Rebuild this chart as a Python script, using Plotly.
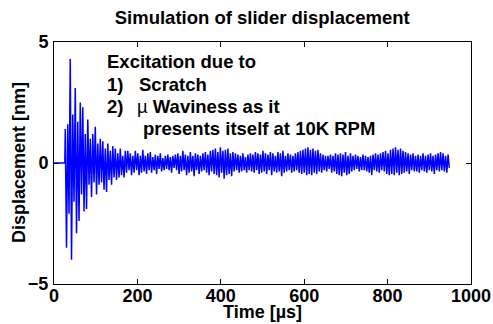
import numpy as np
import plotly.graph_objects as go

# ---- data ----
t_lead = [0, 26]            # flat lead-in, µs
d_lead = [0.0, 0.0]
t_start = 27.0              # first oscillation sample, µs
dt = 3.0                    # sample spacing, µs
displacement = [
    1.4, -3.5, 1.6, -2.1, 4.3, -4.0, 2.0, -1.6, 3.1, -2.9,
    1.7, -2.4, 2.5, -1.3, 2.3, -2.0, 1.2, -1.9, 1.8, -0.9,
    1.0, -1.4, 1.2, -0.8, 1.5, -1.3, 0.8, -0.9, 1.0, -0.8,
    0.9, -1.1, 0.6, -1.2, 0.8, -0.7, 0.5, -0.9, 0.7, -0.6,
    0.6, -0.7, 0.4, -0.6, 0.6, -0.5, 0.3, -0.6, 0.5, -0.4,
    0.5, -0.3, 0.4, -0.5, 0.3, -0.4, 0.5, -0.3, 0.4, -0.5,
    0.3, -0.4, 0.55, -0.35, 0.3, -0.45, 0.4, -0.3, 0.45, -0.4,
    0.25, -0.3, 0.35, -0.45, 0.3, -0.25, 0.4, -0.35, 0.2, -0.3,
    0.3, -0.25, 0.35, -0.3, 0.25, -0.4, 0.3, -0.2, 0.35, -0.3,
    0.4, -0.45, 0.3, -0.35, 0.5, -0.3, 0.35, -0.5, 0.3, -0.4,
    0.45, -0.35, 0.3, -0.55, 0.4, -0.3, 0.35, -0.45, 0.3, -0.35,
    0.4, -0.3, 0.45, -0.4, 0.35, -0.5, 0.5, -0.35, 0.55, -0.45,
    0.6, -0.5, 0.45, -0.6, 0.65, -0.4, 0.5, -0.65, 0.55, -0.5,
    0.6, -0.45, 0.4, -0.55, 0.45, -0.35, 0.4, -0.3, 0.35, -0.4,
    0.3, -0.35, 0.4, -0.3, 0.25, -0.4, 0.35, -0.3, 0.4, -0.35,
    0.35, -0.4, 0.45, -0.3, 0.4, -0.45, 0.35, -0.4, 0.5, -0.35,
    0.4, -0.45, 0.35, -0.3, 0.45, -0.5, 0.4, -0.35, 0.3, -0.4,
    0.45, -0.35, 0.4, -0.55, 0.5, -0.4, 0.3, -0.35, 0.4, -0.3,
    0.35, -0.4, 0.3, -0.35, 0.4, -0.3, 0.45, -0.4, 0.5, -0.45,
    0.55, -0.4, 0.6, -0.5, 0.65, -0.45, 0.55, -0.5, 0.6, -0.4,
    0.5, -0.45, 0.55, -0.35, 0.4, -0.4, 0.35, -0.3, 0.3, -0.35,
    0.3, -0.25, 0.35, -0.4, 0.3, -0.35, 0.4, -0.45, 0.35, -0.5,
    0.4, -0.55, 0.35, -0.4, 0.45, -0.5, 0.3, -0.45, 0.4, -0.35,
    0.3, -0.3, 0.35, -0.25, 0.3, -0.35, 0.25, -0.3, 0.35, -0.3,
    0.3, -0.35, 0.25, -0.4, 0.3, -0.5, 0.35, -0.3, 0.4, -0.35,
    0.35, -0.4, 0.4, -0.3, 0.45, -0.35, 0.5, -0.45, 0.4, -0.5,
    0.55, -0.45, 0.6, -0.5, 0.65, -0.4, 0.55, -0.5, 0.6, -0.45,
    0.5, -0.4, 0.45, -0.35, 0.4, -0.45, 0.35, -0.3, 0.4, -0.35,
    0.3, -0.35, 0.35, -0.4, 0.3, -0.3, 0.4, -0.35, 0.3, -0.4,
    0.35, -0.3, 0.4, -0.35, 0.3, -0.45, 0.35, -0.3, 0.4, -0.35,
    0.45, -0.3, 0.4, -0.35, 0.3, -0.4, 0.35, -0.2,
]
x_ticks = [0, 200, 400, 600, 800, 1000]
y_ticks = [-5, 0, 5]
y_tick_labels = ["\u22125", "0", "5"]

t_sig = t_start + dt * np.arange(len(displacement))
time = np.concatenate([t_lead, t_sig])
disp = np.concatenate([d_lead, displacement])

FONT = "Liberation Sans, Arial, sans-serif"

fig = go.Figure()
fig.add_trace(go.Scatter(x=time, y=disp, mode="lines",
                         line=dict(color="#0000ff", width=1.5),
                         showlegend=False, hoverinfo="skip"))

axis_common = dict(showline=True, linecolor="black", linewidth=1, mirror="ticks",
                   ticks="inside", ticklen=5, tickcolor="black", showgrid=False,
                   zeroline=False, automargin=False,
                   tickfont=dict(family=FONT, size=18, color="black", weight="bold"))

fig.update_xaxes(range=[0, 1000], tickvals=x_ticks, ticklabelstandoff=-5, **axis_common)
fig.update_yaxes(range=[-5, 5], tickvals=y_ticks, ticktext=y_tick_labels,
                 ticklabelstandoff=1, **axis_common)

# plot area is 54..471 px wide, 42..284 px tall
def px(xp):
    return (xp - 54) / 417.0

def py(yp):
    return (284 - yp) / 242.0

tf = dict(family=FONT, size=18.5, color="black")
notes = [
    (106, 62, "<b>Excitation due to</b>"),
    (106, 84, "<b>1)</b>"),
    (138, 84, "<b>Scratch</b>"),
    (106, 106, "<b>2)</b>"),
    (136, 106, "\u00b5<b> Waviness as it</b>"),
    (142, 128, "<b>presents itself at 10K RPM</b>"),
]
for xp, yp, txt in notes:
    fig.add_annotation(x=px(xp), y=py(yp), xref="paper", yref="paper",
                       text=txt, showarrow=False, xanchor="left", yanchor="middle",
                       borderpad=0, font=tf)

# axis titles
tt = dict(family=FONT, size=18, color="black")
fig.add_annotation(x=0.5, y=py(312), xref="paper", yref="paper",
                   text="<b>Time [\u00b5s]</b>", showarrow=False,
                   xanchor="center", yanchor="middle", borderpad=0, font=tt)
fig.add_annotation(x=px(19), y=0.5, xref="paper", yref="paper",
                   text="<b>Displacement [nm]</b>", showarrow=False, textangle=-90,
                   xanchor="center", yanchor="middle", borderpad=0, font=tt)

fig.update_layout(
    width=493, height=324,
    margin=dict(l=54, r=22, t=42, b=40),
    paper_bgcolor="white", plot_bgcolor="white",
    title=dict(text="<b>Simulation of slider displacement</b>", x=0.532, xanchor="center",
               y=0.947, yanchor="middle",
               font=dict(family=FONT, size=18.5, color="black")),
)

fig.write_html("out.html", config={"displayModeBar": False},
               post_script="document.body.style.margin='0';document.body.style.overflow='hidden';")
